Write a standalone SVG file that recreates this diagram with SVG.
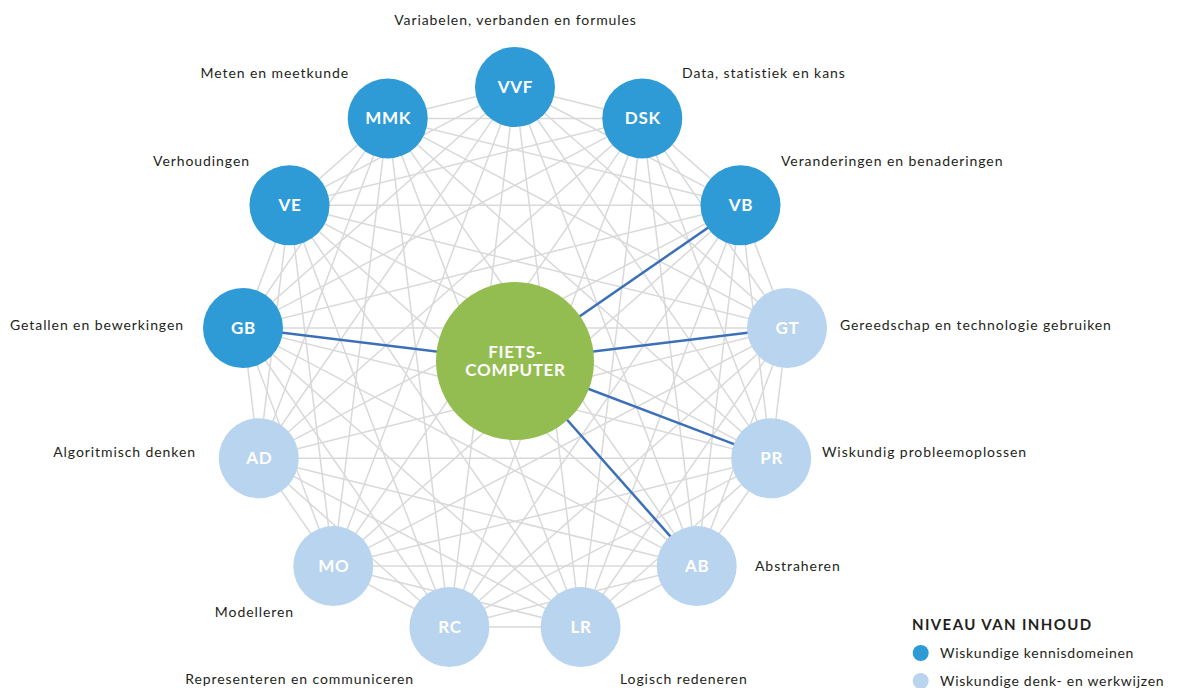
<svg xmlns="http://www.w3.org/2000/svg" width="1179" height="688" viewBox="0 0 1179 688">
<style>
.e{stroke:#d9d9d9;stroke-width:1.5;fill:none}
.b{stroke:#3b70b8;stroke-width:2.5;fill:none}
.k{fill:#2e9bd7}
.d{fill:#b9d4ef}
.c{fill:#93bd50}
.n{font-family:Lato,"Liberation Sans",sans-serif;font-weight:bold;font-size:17px;letter-spacing:0.7px;fill:#fff;text-anchor:middle}
.l{font-family:Lato,"Liberation Sans",sans-serif;font-size:14px;letter-spacing:0.92px;fill:#231f20}
.g{font-family:Lato,"Liberation Sans",sans-serif;font-size:14px;letter-spacing:0.72px;fill:#231f20}
.h{font-family:Lato,"Liberation Sans",sans-serif;font-size:15px;letter-spacing:1.4px;font-weight:bold;fill:#231f20}
</style>
<rect width="1179" height="688" fill="#fff"/>
<g id="connectors">
<g id="grid">
<line class="e" x1="515" y1="87" x2="642.3" y2="118.4"/>
<line class="e" x1="515" y1="87" x2="740.5" y2="205.3"/>
<line class="e" x1="515" y1="87" x2="787" y2="328"/>
<line class="e" x1="515" y1="87" x2="771.2" y2="458.2"/>
<line class="e" x1="515" y1="87" x2="696.7" y2="566.1"/>
<line class="e" x1="515" y1="87" x2="580.6" y2="627"/>
<line class="e" x1="515" y1="87" x2="449.4" y2="627"/>
<line class="e" x1="515" y1="87" x2="333.3" y2="566.1"/>
<line class="e" x1="515" y1="87" x2="258.8" y2="458.2"/>
<line class="e" x1="515" y1="87" x2="243" y2="328"/>
<line class="e" x1="515" y1="87" x2="289.5" y2="205.3"/>
<line class="e" x1="515" y1="87" x2="387.7" y2="118.4"/>
<line class="e" x1="642.3" y1="118.4" x2="740.5" y2="205.3"/>
<line class="e" x1="642.3" y1="118.4" x2="787" y2="328"/>
<line class="e" x1="642.3" y1="118.4" x2="771.2" y2="458.2"/>
<line class="e" x1="642.3" y1="118.4" x2="696.7" y2="566.1"/>
<line class="e" x1="642.3" y1="118.4" x2="580.6" y2="627"/>
<line class="e" x1="642.3" y1="118.4" x2="449.4" y2="627"/>
<line class="e" x1="642.3" y1="118.4" x2="333.3" y2="566.1"/>
<line class="e" x1="642.3" y1="118.4" x2="258.8" y2="458.2"/>
<line class="e" x1="642.3" y1="118.4" x2="243" y2="328"/>
<line class="e" x1="642.3" y1="118.4" x2="289.5" y2="205.3"/>
<line class="e" x1="642.3" y1="118.4" x2="387.7" y2="118.4"/>
<line class="e" x1="740.5" y1="205.3" x2="787" y2="328"/>
<line class="e" x1="740.5" y1="205.3" x2="771.2" y2="458.2"/>
<line class="e" x1="740.5" y1="205.3" x2="696.7" y2="566.1"/>
<line class="e" x1="740.5" y1="205.3" x2="580.6" y2="627"/>
<line class="e" x1="740.5" y1="205.3" x2="449.4" y2="627"/>
<line class="e" x1="740.5" y1="205.3" x2="333.3" y2="566.1"/>
<line class="e" x1="740.5" y1="205.3" x2="258.8" y2="458.2"/>
<line class="e" x1="740.5" y1="205.3" x2="243" y2="328"/>
<line class="e" x1="740.5" y1="205.3" x2="289.5" y2="205.3"/>
<line class="e" x1="740.5" y1="205.3" x2="387.7" y2="118.4"/>
<line class="e" x1="787" y1="328" x2="771.2" y2="458.2"/>
<line class="e" x1="787" y1="328" x2="696.7" y2="566.1"/>
<line class="e" x1="787" y1="328" x2="580.6" y2="627"/>
<line class="e" x1="787" y1="328" x2="449.4" y2="627"/>
<line class="e" x1="787" y1="328" x2="333.3" y2="566.1"/>
<line class="e" x1="787" y1="328" x2="258.8" y2="458.2"/>
<line class="e" x1="787" y1="328" x2="243" y2="328"/>
<line class="e" x1="787" y1="328" x2="289.5" y2="205.3"/>
<line class="e" x1="787" y1="328" x2="387.7" y2="118.4"/>
<line class="e" x1="771.2" y1="458.2" x2="696.7" y2="566.1"/>
<line class="e" x1="771.2" y1="458.2" x2="580.6" y2="627"/>
<line class="e" x1="771.2" y1="458.2" x2="449.4" y2="627"/>
<line class="e" x1="771.2" y1="458.2" x2="333.3" y2="566.1"/>
<line class="e" x1="771.2" y1="458.2" x2="258.8" y2="458.2"/>
<line class="e" x1="771.2" y1="458.2" x2="243" y2="328"/>
<line class="e" x1="771.2" y1="458.2" x2="289.5" y2="205.3"/>
<line class="e" x1="771.2" y1="458.2" x2="387.7" y2="118.4"/>
<line class="e" x1="696.7" y1="566.1" x2="580.6" y2="627"/>
<line class="e" x1="696.7" y1="566.1" x2="449.4" y2="627"/>
<line class="e" x1="696.7" y1="566.1" x2="333.3" y2="566.1"/>
<line class="e" x1="696.7" y1="566.1" x2="258.8" y2="458.2"/>
<line class="e" x1="696.7" y1="566.1" x2="243" y2="328"/>
<line class="e" x1="696.7" y1="566.1" x2="289.5" y2="205.3"/>
<line class="e" x1="696.7" y1="566.1" x2="387.7" y2="118.4"/>
<line class="e" x1="580.6" y1="627" x2="449.4" y2="627"/>
<line class="e" x1="580.6" y1="627" x2="333.3" y2="566.1"/>
<line class="e" x1="580.6" y1="627" x2="258.8" y2="458.2"/>
<line class="e" x1="580.6" y1="627" x2="243" y2="328"/>
<line class="e" x1="580.6" y1="627" x2="289.5" y2="205.3"/>
<line class="e" x1="580.6" y1="627" x2="387.7" y2="118.4"/>
<line class="e" x1="449.4" y1="627" x2="333.3" y2="566.1"/>
<line class="e" x1="449.4" y1="627" x2="258.8" y2="458.2"/>
<line class="e" x1="449.4" y1="627" x2="243" y2="328"/>
<line class="e" x1="449.4" y1="627" x2="289.5" y2="205.3"/>
<line class="e" x1="449.4" y1="627" x2="387.7" y2="118.4"/>
<line class="e" x1="333.3" y1="566.1" x2="258.8" y2="458.2"/>
<line class="e" x1="333.3" y1="566.1" x2="243" y2="328"/>
<line class="e" x1="333.3" y1="566.1" x2="289.5" y2="205.3"/>
<line class="e" x1="333.3" y1="566.1" x2="387.7" y2="118.4"/>
<line class="e" x1="258.8" y1="458.2" x2="243" y2="328"/>
<line class="e" x1="258.8" y1="458.2" x2="289.5" y2="205.3"/>
<line class="e" x1="258.8" y1="458.2" x2="387.7" y2="118.4"/>
<line class="e" x1="243" y1="328" x2="289.5" y2="205.3"/>
<line class="e" x1="243" y1="328" x2="387.7" y2="118.4"/>
<line class="e" x1="289.5" y1="205.3" x2="387.7" y2="118.4"/>
</g>
<g id="links">
<line class="b" x1="515" y1="361" x2="740.5" y2="205.3"/>
<line class="b" x1="515" y1="361" x2="787" y2="328"/>
<line class="b" x1="515" y1="361" x2="771.2" y2="458.2"/>
<line class="b" x1="515" y1="361" x2="696.7" y2="566.1"/>
<line class="b" x1="515" y1="361" x2="243" y2="328"/>
</g>
</g>
<g id="node-center"><circle class="c" cx="515" cy="361" r="79"/><text class="n" x="515.5" y="358">FIETS-</text><text class="n" x="515.5" y="376">COMPUTER</text></g>
<g id="node-VVF"><circle class="k" cx="515" cy="87" r="40"/><text class="n" x="515.5" y="93">VVF</text><text class="l" x="515.5" y="25" text-anchor="middle">Variabelen, verbanden en formules</text></g>
<g id="node-DSK"><circle class="k" cx="642.3" cy="118.4" r="40"/><text class="n" x="642.8" y="124.4">DSK</text><text class="l" x="682" y="78">Data, statistiek en kans</text></g>
<g id="node-VB"><circle class="k" cx="740.5" cy="205.3" r="40"/><text class="n" x="741" y="211.3">VB</text><text class="l" x="781" y="166">Veranderingen en benaderingen</text></g>
<g id="node-GT"><circle class="d" cx="787" cy="328" r="40"/><text class="n" x="787.5" y="334">GT</text><text class="l" x="840" y="330">Gereedschap en technologie gebruiken</text></g>
<g id="node-PR"><circle class="d" cx="771.2" cy="458.2" r="40"/><text class="n" x="771.7" y="464.2">PR</text><text class="l" x="822" y="457">Wiskundig probleemoplossen</text></g>
<g id="node-AB"><circle class="d" cx="696.7" cy="566.1" r="40"/><text class="n" x="697.2" y="572.1">AB</text><text class="l" x="755" y="571">Abstraheren</text></g>
<g id="node-LR"><circle class="d" cx="580.6" cy="627" r="40"/><text class="n" x="581.1" y="633">LR</text><text class="l" x="620" y="684">Logisch redeneren</text></g>
<g id="node-RC"><circle class="d" cx="449.4" cy="627" r="40"/><text class="n" x="449.9" y="633">RC</text><text class="l" x="414" y="684" text-anchor="end">Representeren en communiceren</text></g>
<g id="node-MO"><circle class="d" cx="333.3" cy="566.1" r="40"/><text class="n" x="333.8" y="572.1">MO</text><text class="l" x="294" y="617" text-anchor="end">Modelleren</text></g>
<g id="node-AD"><circle class="d" cx="258.8" cy="458.2" r="40"/><text class="n" x="259.3" y="464.2">AD</text><text class="l" x="196" y="457" text-anchor="end">Algoritmisch denken</text></g>
<g id="node-GB"><circle class="k" cx="243" cy="328" r="40"/><text class="n" x="243.5" y="334">GB</text><text class="l" x="184" y="330" text-anchor="end">Getallen en bewerkingen</text></g>
<g id="node-VE"><circle class="k" cx="289.5" cy="205.3" r="40"/><text class="n" x="290" y="211.3">VE</text><text class="l" x="250" y="166" text-anchor="end">Verhoudingen</text></g>
<g id="node-MMK"><circle class="k" cx="387.7" cy="118.4" r="40"/><text class="n" x="388.2" y="124.4">MMK</text><text class="l" x="349" y="78" text-anchor="end">Meten en meetkunde</text></g>
<g id="legend">
<text class="h" x="912" y="630">NIVEAU VAN INHOUD</text>
<circle class="k" cx="920.7" cy="653" r="8"/>
<text class="g" x="940" y="657.5">Wiskundige kennisdomeinen</text>
<circle class="d" cx="920.7" cy="681" r="8"/>
<text class="g" x="940" y="685.5">Wiskundige denk- en werkwijzen</text>
</g>
</svg>
